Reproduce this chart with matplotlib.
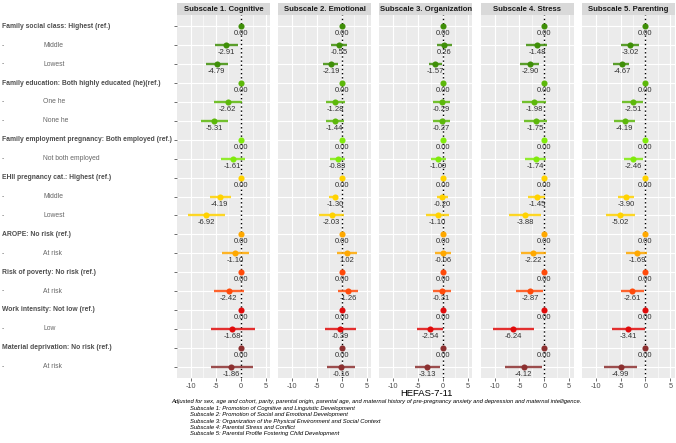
import matplotlib
matplotlib.use("Agg")
import matplotlib.pyplot as plt
import matplotlib.transforms as mtransforms

plt.rcParams['font.family'] = ['Liberation Sans', 'DejaVu Sans']

# ---- data ----
rows = ["Family social class: Highest (ref.)", "Middle", "Lowest",
        "Family education: Both highly educated (he)(ref.)", "One he", "None he",
        "Family employment pregnancy: Both employed (ref.)", "Not both employed",
        "EHII pregnancy cat.: Highest (ref.)", "Middle", "Lowest",
        "AROPE: No risk (ref.)", "At risk",
        "Risk of poverty: No risk (ref.)", "At risk",
        "Work intensity: Not low (ref.)", "Low",
        "Material deprivation: No risk (ref.)", "At risk"]
is_ref = [1, 0, 0, 1, 0, 0, 1, 0, 1, 0, 0, 1, 0, 1, 0, 1, 0, 1, 0]
group = [0, 0, 0, 1, 1, 1, 2, 2, 3, 3, 3, 4, 4, 5, 5, 6, 6, 7, 7]
group_colors = ["#3f8f08", "#5cb80a", "#80ea0c", "#ffd200",
                "#ffa800", "#ff4a0a", "#e00c0c", "#8c3030"]

panels = ["Subscale 1. Cognitive", "Subscale 2. Emotional", "Subscale 3. Organization",
          "Subscale 4. Stress", "Subscale 5. Parenting"]

est1 = [0, -2.91, -4.79, 0, -2.62, -5.31, 0, -1.61, 0, -4.19, -6.92, 0, -1.10, 0, -2.42, 0, -1.68, 0, -1.86]
lo1 = [0, -5.2, -7.0, 0, -5.3, -8.05, 0, -4.0, 0, -6.2, -10.5, 0, -3.8, 0, -5.3, 0, -6.0, 0, -6.0]
hi1 = [0, -0.47, -2.5, 0, 0.2, -2.5, 0, 0.9, 0, -2.0, -3.2, 0, 1.75, 0, 0.7, 0, 2.9, 0, 2.4]

est2 = [0, -0.55, -2.19, 0, -1.28, -1.44, 0, -0.83, 0, -1.30, -2.03, 0, 1.02, 0, 1.26, 0, -0.39, 0, -0.16]
lo2 = [0, -2.2, -3.8, 0, -3.2, -3.2, 0, -2.4, 0, -2.6, -4.6, 0, -0.9, 0, -0.7, 0, -3.4, 0, -3.0]
hi2 = [0, 1.1, -0.7, 0, 0.6, 0.4, 0, 0.7, 0, -0.7, 0.5, 0, 3.0, 0, 3.3, 0, 2.8, 0, 2.6]

est3 = [0, 0.26, -1.57, 0, -0.29, -0.27, 0, -1.00, 0, -0.20, -1.10, 0, -0.06, 0, -0.31, 0, -2.54, 0, -3.13]
lo3 = [0, -1.2, -2.9, 0, -2.0, -2.0, 0, -2.5, 0, -1.3, -3.4, 0, -1.7, 0, -2.0, 0, -5.2, 0, -5.7]
hi3 = [0, 1.7, -0.2, 0, 1.3, 1.3, 0, 0.5, 0, 1.0, 1.1, 0, 1.5, 0, 1.5, 0, 0.0, 0, -0.7]

est4 = [0, -1.48, -2.90, 0, -1.98, -1.75, 0, -1.74, 0, -1.45, -3.88, 0, -2.22, 0, -2.87, 0, -6.24, 0, -4.12]
lo4 = [0, -3.6, -4.9, 0, -4.4, -4.1, 0, -3.9, 0, -3.2, -7.0, 0, -4.7, 0, -5.6, 0, -10.4, 0, -7.9]
hi4 = [0, 0.5, -1.0, 0, 0.3, 0.5, 0, 0.3, 0, 0.1, -0.7, 0, 0.3, 0, -0.2, 0, -2.1, 0, -0.4]

est5 = [0, -3.02, -4.67, 0, -2.51, -4.19, 0, -2.46, 0, -3.90, -5.02, 0, -1.69, 0, -2.61, 0, -3.41, 0, -4.99]
lo5 = [0, -5.0, -6.5, 0, -4.8, -6.4, 0, -4.4, 0, -5.5, -7.9, 0, -4.0, 0, -5.0, 0, -6.8, 0, -8.4]
hi5 = [0, -1.3, -3.4, 0, -0.5, -2.1, 0, -0.5, 0, -2.3, -2.1, 0, 0.4, 0, -0.3, 0, 0.0, 0, -1.8]

ests = [est1, est2, est3, est4, est5]
los = [lo1, lo2, lo3, lo4, lo5]
his = [hi1, hi2, hi3, hi4, hi5]
# printed label differs from plotted position in the original
label_fix = {(1, 14): "-1.26"}

xticks = [-10, -5, 0, 5]
caption = ["Adjusted for sex, age and cohort, parity, parental origin, parental age, and maternal history of pre-pregnancy anxiety and depression and maternal intelligence.",
           "Subscale 1: Promotion of Cognitive and Linguistic Development",
           "Subscale 2: Promotion of Social and Emotional Development",
           "Subscale 3: Organization of the Physical Environment and Social Context",
           "Subscale 4: Parental Stress and Conflict",
           "Subscale 5: Parental Profile Fostering Child Development"]

# ---- figure ----
W, H = 676, 443
fig = plt.figure(figsize=(W / 100, H / 100), dpi=100)

left0, pw, step = 177, 93, 101.2
top, bot = 15, 378
strip_h = 12
ypos = list(range(1, len(rows) + 1))

axes = []
for p in range(5):
    x0 = left0 + p * step
    ax = fig.add_axes([x0 / W, 1 - bot / H, pw / W, (bot - top) / H])
    axes.append(ax)
    ax.set_facecolor("#EBEBEB")
    for s in ax.spines.values():
        s.set_visible(False)
    ax.set_xlim(-12.8, 5.9)
    ax.set_ylim(len(rows) + 0.6, 0.4)
    for xv in [-7.5, -2.5, 2.5]:
        ax.axvline(xv, color="white", lw=0.4, zorder=0)
    for xv in xticks:
        ax.axvline(xv, color="white", lw=0.8, zorder=0)
    for yv in ypos:
        ax.axhline(yv, color="white", lw=0.8, zorder=0)
    ax.axvline(0, color="black", lw=1.0, ls=(0, (1, 2)), zorder=1)

    for i, y in enumerate(ypos):
        c = group_colors[group[i]]
        if not is_ref[i]:
            ax.plot([los[p][i], his[p][i]], [y, y], color=c, lw=1.7, alpha=0.85,
                    solid_capstyle="butt", zorder=2)
        ax.plot(ests[p][i], y, "o", color=c, ms=4.4, mec="none", zorder=3)
        lab = label_fix.get((p, i), "%.2f" % ests[p][i])
        ax.text(ests[p][i], y + 0.4, lab, ha="center", va="center",
                fontsize=5.5, color="#303030", zorder=4)

    ax.set_xticks(xticks)
    ax.set_xticklabels([str(t) for t in xticks])
    ax.tick_params(axis="x", length=2, width=0.5, color="#333333",
                   labelsize=5.2, labelcolor="#4D4D4D", pad=1.5)
    ax.set_yticks(ypos)
    ax.set_yticklabels([])
    if p == 0:
        ax.tick_params(axis="y", length=2, width=0.5, color="#333333")
    else:
        ax.tick_params(axis="y", length=0)

    # strip
    sax = fig.add_axes([x0 / W, 1 - top / H, pw / W, strip_h / H])
    sax.set_facecolor("#D9D9D9")
    sax.set_xticks([])
    sax.set_yticks([])
    for s in sax.spines.values():
        s.set_visible(False)
    sax.text(0.5, 0.45, panels[p], ha="center", va="center", fontsize=5.6,
             fontweight="bold", color="#1A1A1A", transform=sax.transAxes)

# row labels on the far left
tr = mtransforms.blended_transform_factory(fig.transFigure, axes[0].transData)
for i, y in enumerate(ypos):
    if is_ref[i]:
        fig.text(2 / W, y, rows[i], transform=tr, ha="left", va="center",
                 fontsize=4.9, fontweight="bold", color="#4D4D4D")
    else:
        fig.text(2 / W, y, "-", transform=tr, ha="left", va="center",
                 fontsize=4.9, color="#666666")
        fig.text(43 / W, y, rows[i], transform=tr, ha="left", va="center",
                 fontsize=4.9, color="#666666")

fig.text(426 / W, 1 - 394 / H, "HEFAS-7-11", ha="center", va="center",
         fontsize=6.8, color="black")

for k, line in enumerate(caption):
    xl = 171 if k == 0 else 190
    fig.text(xl / W, 1 - (402 + k * 6.4) / H, line, ha="left", va="center",
             fontsize=4.25, style="italic", color="black")

fig.savefig("out.png", dpi=100)
